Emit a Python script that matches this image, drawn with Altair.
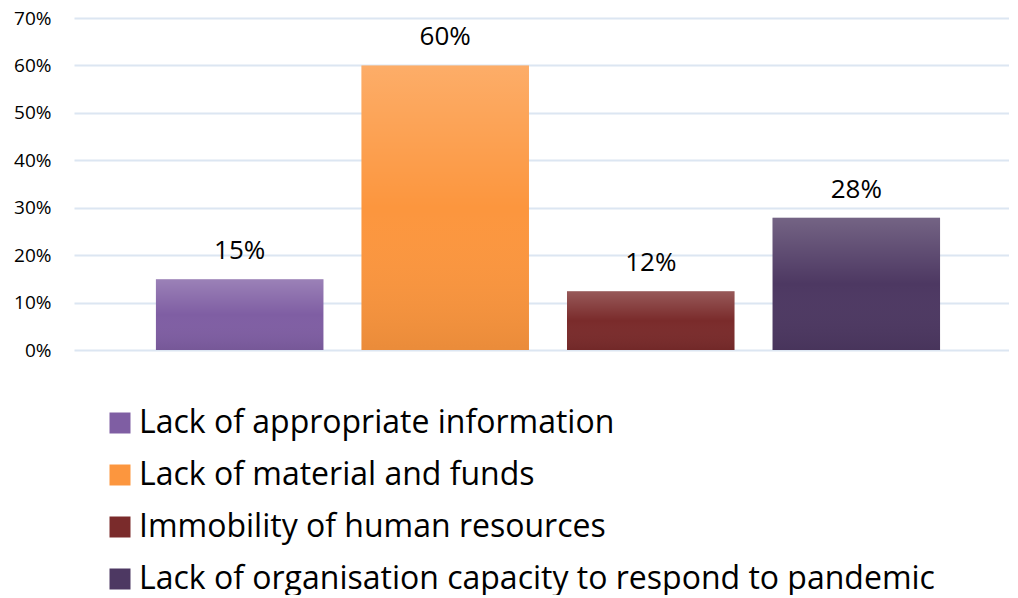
import altair as alt
import pandas as pd

categories = [
    "Lack of appropriate information",
    "Lack of material and funds",
    "Immobility of human resources",
    "Lack of organisation capacity to respond to pandemic",
]
values = [0.149, 0.60, 0.124, 0.279]
colors = ["#7f5ea3", "#fc963e", "#7a2b2b", "#4d3862"]

df = pd.DataFrame({"category": categories, "value": values})

FONT = "Open Sans"

x = alt.X(
    "category:N",
    sort=categories,
    axis=None,
    scale=alt.Scale(paddingInner=0.185, paddingOuter=0.367, align=0.543),
)
y = alt.Y(
    "value:Q",
    scale=alt.Scale(domain=[0, 0.7]),
    axis=alt.Axis(
        format=".0%",
        values=[0, 0.1, 0.2, 0.3, 0.4, 0.5, 0.6, 0.7],
        title=None,
        domain=False,
        ticks=False,
        labelPadding=23,
        labelFont=FONT,
        labelFontSize=19,
        labelColor="#000000",
        gridColor="#dce6f2",
        gridWidth=2,
    ),
)

bars = alt.Chart(df).mark_bar().encode(
    x=x,
    y=y,
    color=alt.Color(
        "category:N",
        sort=categories,
        scale=alt.Scale(domain=categories, range=colors),
        legend=alt.Legend(
            title=None,
            orient="none",
            legendX=30,
            legendY=389,
            direction="vertical",
            symbolType="square",
            symbolSize=441,
            symbolStrokeWidth=0,
            symbolOpacity=1,
            labelFont=FONT,
            labelFontSize=32,
            labelColor="#000000",
            labelOffset=3,
            labelLimit=1000,
            rowPadding=20,
            padding=0,
        ),
    ),
)

shade = alt.Chart(df).mark_bar(
    color=alt.Gradient(
        gradient="linear",
        stops=[
            alt.GradientStop(color="rgba(255,255,255,0.22)", offset=0),
            alt.GradientStop(color="rgba(255,255,255,0.0)", offset=0.5),
            alt.GradientStop(color="rgba(0,0,0,0.07)", offset=1),
        ],
        x1=0, x2=0, y1=0, y2=1,
    )
).encode(x=x, y=y)

labels = alt.Chart(df).mark_text(
    font=FONT, fontSize=26, color="#000000", baseline="alphabetic", dy=-20
).encode(
    x=x,
    y=y,
    text=alt.Text("value:Q", format=".0%"),
)

chart = (
    alt.layer(bars, shade, labels)
    .properties(
        width=935,
        height=332,
        padding={"left": 5, "top": 1, "right": 0, "bottom": 0},
    )
    .configure_view(strokeWidth=0)
)

chart.save("out.html", embed_options={"renderer": "svg", "actions": False})
